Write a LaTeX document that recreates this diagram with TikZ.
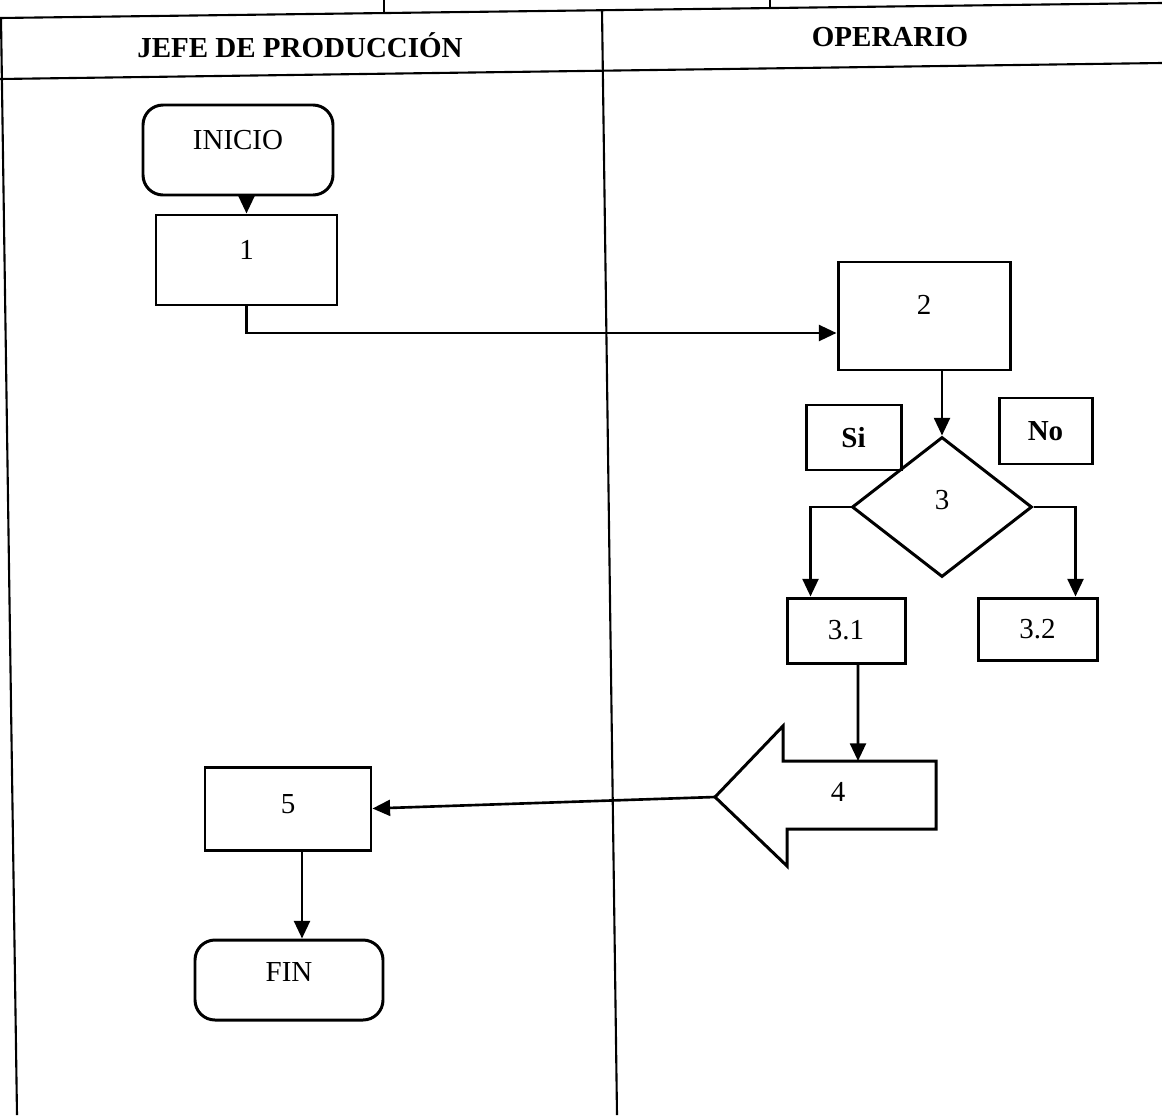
\documentclass[tikz,border=0pt]{standalone}
\usepackage{fontspec}
\setmainfont{Liberation Serif}
\usetikzlibrary{shapes.geometric,arrows.meta}

\newcommand{\px}{0.02cm}

\begin{document}
\begin{tikzpicture}[x=0.02cm,y=-0.02cm,
  every node/.style={font=\fontsize{16.5}{19}\selectfont},
  head/.style={font=\fontsize{16.5}{19}\selectfont\bfseries},
  box/.style={draw,line width=1.7pt,rectangle,inner sep=2pt},
  term/.style={box,rounded corners=0.4cm},
  arr/.style={line width=1.5pt,-{Triangle[length=10pt,width=9pt]}},
  grid/.style={line width=1.2pt}]
\useasboundingbox (0,0) rectangle (1162,1115);
% table lines
\draw[grid] (0,18)--(1162,3); \draw[grid] (0,79)--(1162,63);
\draw[grid] (384,0)--(384,13); \draw[grid] (770,0)--(770,7);
\draw[grid] (1,18)--(17,1115); \draw[grid] (602,10)--(617,1115);
\node[head] (h1) at (300,45) {JEFE DE PRODUCCIÓN};
\node[head] (h2) at (890,37) {OPERARIO};
% jefe de produccion
\node[term,minimum width=190*\px,minimum height=90*\px,text depth=0.4cm] (ini) at (238,150) {INICIO};
\node[box,minimum width=181*\px,minimum height=90*\px,text depth=0.4cm] (b1) at (246.5,260) {1};
\node[box,minimum width=166*\px,minimum height=83*\px,text depth=0.2cm] (b5) at (288,808.5) {5};
\node[term,minimum width=188*\px,minimum height=80*\px,text depth=0.32cm] (fin) at (289,980) {FIN};
% operario
\node[box,minimum width=172*\px,minimum height=108*\px,text depth=0.44cm] (b2) at (924,316) {2};
\node[box,font=\fontsize{16.5}{19}\selectfont\bfseries,minimum width=95*\px,minimum height=65*\px] (si) at (853.5,437.5) {Si};
\node[box,font=\fontsize{16.5}{19}\selectfont\bfseries,minimum width=93*\px,minimum height=66*\px] (no) at (1045.5,431) {No};
\node[draw,diamond,line width=1.7pt,minimum width=180*\px,minimum height=140*\px,text depth=0.28cm] (d3) at (942,507) {3};
\node[box,minimum width=118*\px,minimum height=65*\px] (b31) at (846,630.5) {3.1};
\node[box,minimum width=119*\px,minimum height=62*\px] (b32) at (1037.5,629) {3.2};
% flecha 4
\coordinate (a4tip) at (715,797); \coordinate (a4top) at (858,761);
\draw[line width=1.7pt] (a4tip)--(783,726)--(783,761)--(936,761)--(936,829)--(787,829)--(787,866)--cycle;
\node (a4) at (838,792) {4};
% conectores
\draw[arr] (b1.north |- ini.south) -- (b1.north);
\draw[arr] (b1.south) |- ([yshift=-0.34cm]b2.west);
\draw[arr] (d3.north |- b2.south) -- (d3.north);
\draw[arr] (d3.west) -| ([xshift=0.5cm]b31.north west);
\draw[arr] (d3.east) -| ([xshift=-0.46cm]b32.north east);
\draw[arr] ([xshift=0.24cm]b31.south) -- (a4top);
\draw[arr] (a4tip) -- (b5.east);
\coordinate (c5) at ([xshift=0.28cm]b5.south);
\draw[arr] (c5) -- (c5 |- fin.north);
\end{tikzpicture}
\end{document}
